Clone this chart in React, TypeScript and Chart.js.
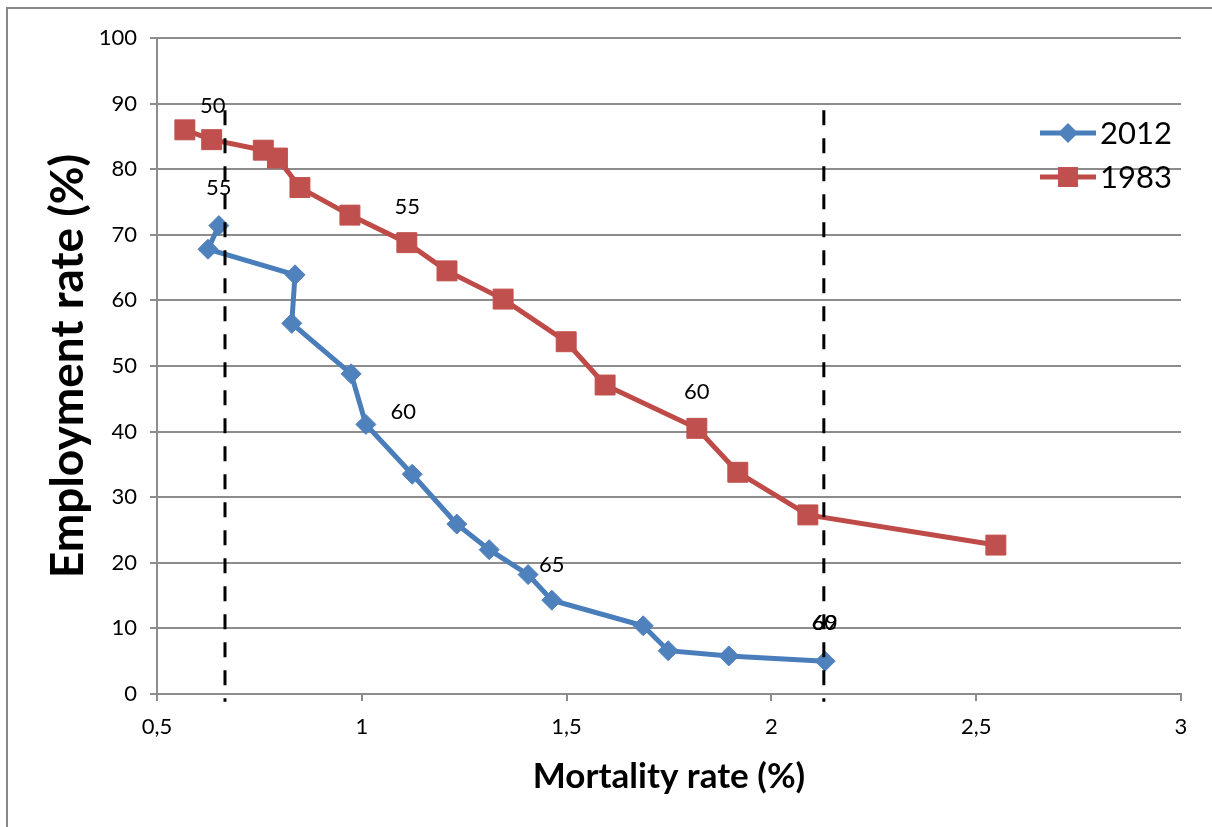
import React, { useEffect, useRef } from "react";
import { Chart, registerables } from "chart.js";

Chart.register(...registerables);

// ---- Data ----
const mortality2012 = [0.651, 0.6245, 0.837, 0.829, 0.974, 1.01, 1.123, 1.232, 1.311, 1.406, 1.464, 1.687, 1.748, 1.896, 2.131];
const employment2012 = [71.4, 67.8, 63.9, 56.5, 48.8, 41.1, 33.5, 25.9, 22.0, 18.2, 14.3, 10.4, 6.6, 5.8, 5.0];

const mortality1983 = [0.568, 0.6335, 0.7595, 0.794, 0.849, 0.971, 1.11, 1.208, 1.345, 1.499, 1.594, 1.818, 1.918, 2.089, 2.548];
const employment1983 = [86.0, 84.5, 82.9, 81.7, 77.2, 73.0, 68.8, 64.5, 60.2, 53.7, 47.1, 40.5, 33.8, 27.3, 22.7];

const dashedLineX = [0.666, 2.128];
const dashedLineTop = 89.0;
const dashedLineBottom = -1.2;

const ageLabelText = ["50", "55", "60", "55", "60", "65", "60", "69"];
const ageLabelX = [0.636, 1.111, 1.818, 0.651, 1.101, 1.464, 2.129, 2.131];
const ageLabelY = [89.7, 74.3, 46.0, 77.1, 43.0, 19.7, 10.8, 10.8];

const xTickLabels = ["0,5", "1", "1,5", "2", "2,5", "3"];
const seriesNames = ["2012", "1983"];

const BLUE_LINE = "#4A7EBB";
const BLUE_MARK = "#4F81BD";
const RED_LINE = "#BE4B48";
const RED_MARK = "#C0504D";
const GRID = "#8c8c8c";

const ageLabelPlugin = {
  id: "ageLabels",
  afterDatasetsDraw(chart: any) {
    const { ctx, scales } = chart;
    ctx.save();
    ctx.font = "22px Lato";
    ctx.fillStyle = "#000";
    ctx.textAlign = "center";
    ctx.textBaseline = "middle";
    ageLabelText.forEach((t, i) => {
      ctx.fillText(t, scales.x.getPixelForValue(ageLabelX[i]), scales.y.getPixelForValue(ageLabelY[i]));
    });
    ctx.restore();
  },
};

const legendPlugin = {
  id: "sideLegend",
  afterDraw(chart: any) {
    const { ctx } = chart;
    const opts = chart.options.plugins.sideLegend;
    const items = chart.data.datasets.filter((d: any) => d.label);
    ctx.save();
    items.forEach((d: any, i: number) => {
      const y = opts.y + i * opts.rowGap;
      ctx.strokeStyle = d.borderColor;
      ctx.lineWidth = d.borderWidth;
      ctx.beginPath();
      ctx.moveTo(opts.x, y);
      ctx.lineTo(opts.x + opts.lineLength, y);
      ctx.stroke();
      ctx.fillStyle = d.pointBackgroundColor;
      ctx.beginPath();
      const cx = opts.x + opts.lineLength / 2;
      if (d.pointStyle === "rectRot") {
        const r = d.pointRadius;
        ctx.moveTo(cx - r, y);
        ctx.lineTo(cx, y - r);
        ctx.lineTo(cx + r, y);
        ctx.lineTo(cx, y + r);
        ctx.closePath();
      } else {
        const s = d.pointRadius * Math.SQRT1_2;
        ctx.rect(cx - s, y - s, 2 * s, 2 * s);
      }
      ctx.fill();
      ctx.fillStyle = "#000";
      ctx.font = opts.font;
      ctx.textAlign = "left";
      ctx.textBaseline = "middle";
      ctx.fillText(d.label, opts.x + opts.lineLength + opts.textGap, y + 1);
    });
    ctx.restore();
  },
};

function toPoints(xs: number[], ys: number[]) {
  return xs.map((x, i) => ({ x, y: ys[i] }));
}

export default function App() {
  const ref = useRef<HTMLCanvasElement>(null);

  useEffect(() => {
    if (!ref.current) return;
    Chart.defaults.font.family = "Lato";
    const dashed = dashedLineX.map((x) => ({
      label: "",
      data: [
        { x, y: dashedLineTop },
        { x, y: dashedLineBottom },
      ],
      showLine: true,
      borderColor: "#000",
      borderWidth: 3,
      borderDash: [15, 13],
      pointRadius: 0,
      clip: false as any,
    }));
    const chart = new Chart(ref.current, {
      type: "scatter",
      data: {
        datasets: [
          ...dashed,
          {
            label: seriesNames[0],
            data: toPoints(mortality2012, employment2012),
            showLine: true,
            borderColor: BLUE_LINE,
            borderWidth: 5,
            pointStyle: "rectRot",
            pointRadius: 10,
            pointBackgroundColor: BLUE_MARK,
            pointBorderColor: BLUE_MARK,
            pointBorderWidth: 1,
            tension: 0,
          },
          {
            label: seriesNames[1],
            data: toPoints(mortality1983, employment1983),
            showLine: true,
            borderColor: RED_LINE,
            borderWidth: 5,
            pointStyle: "rect",
            pointRadius: 14.1,
            pointBackgroundColor: RED_MARK,
            pointBorderColor: RED_MARK,
            pointBorderWidth: 1,
            tension: 0,
          },
        ] as any,
      },
      options: {
        responsive: false,
        animation: false,
        events: [],
        layout: { padding: { left: 0, right: 31, top: 38, bottom: 0 } },
        plugins: {
          legend: { display: false },
          tooltip: { enabled: false },
          sideLegend: { x: 1040, y: 133, rowGap: 44, lineLength: 56, textGap: 4, font: "31px Lato" },
        } as any,
        scales: {
          x: {
            type: "linear",
            min: 0.5,
            max: 3,
            ticks: {
              stepSize: 0.5,
              autoSkip: false,
              maxRotation: 0,
              padding: 13,
              color: "#000",
              font: { size: 22 },
              callback: (_v: any, i: number) => xTickLabels[i],
            },
            grid: { drawOnChartArea: false, drawTicks: true, tickLength: 7, color: GRID, lineWidth: 2 },
            border: { color: GRID, width: 2 },
            title: {
              display: true,
              text: "Mortality rate (%)",
              color: "#000",
              font: { size: 35, weight: "bold" },
              padding: { top: 0, bottom: 29 },
            },
            afterFit: (s: any) => {
              s.height = 133;
            },
          },
          y: {
            min: 0,
            max: 100,
            ticks: {
              stepSize: 10,
              padding: 13,
              color: "#000",
              font: { size: 22 },
            },
            grid: { color: GRID, lineWidth: 2, tickLength: 7 },
            border: { color: GRID, width: 2 },
            title: {
              display: true,
              text: "Employment rate (%)",
              color: "#000",
              font: { size: 46, weight: "bold" },
              padding: { top: 41, bottom: 0 },
            },
            afterFit: (s: any) => {
              s.width = 157;
            },
          },
        } as any,
      },
      plugins: [ageLabelPlugin, legendPlugin],
    });
    return () => chart.destroy();
  }, []);

  return (
    <div style={{ position: "absolute", left: 0, top: 0, width: 1212, height: 827, background: "#fff", overflow: "hidden" }}>
      <div
        style={{
          position: "absolute",
          left: 6,
          top: 7,
          width: 1220,
          height: 830,
          borderLeft: "2px solid #898989",
          borderTop: "2px solid #898989",
        }}
      />
      <canvas ref={ref} width={1212} height={827} style={{ position: "absolute", left: 0, top: 0, display: "block" }} />
    </div>
  );
}
